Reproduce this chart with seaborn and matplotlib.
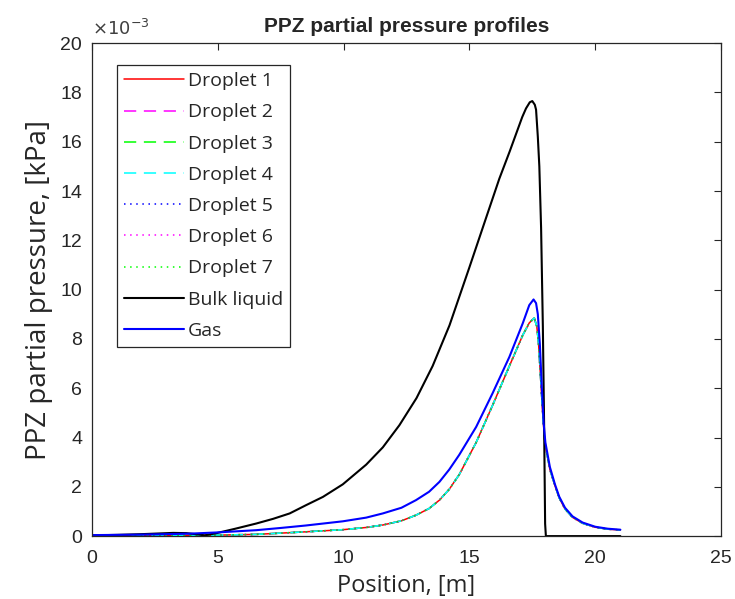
import numpy as np
import pandas as pd
import seaborn as sns
import matplotlib
matplotlib.use("Agg")
import matplotlib.pyplot as plt

# values, y in units of 1e-3 kPa
bulk_x = [0, 1, 2, 3.23, 3.76, 4.2, 4.48, 4.95, 5.7, 6.53, 7.2, 7.86, 8.5, 9.18,
          9.97, 10.9, 11.56, 12.22, 12.9, 13.54, 14.21, 15.0, 15.66, 16.19,
          16.6, 16.85, 17.1, 17.25, 17.4, 17.5, 17.6, 17.65, 17.72, 17.78,
          17.85, 17.92, 17.97, 18.01, 18.04, 19.5, 21.0]
bulk_y = [0.03, 0.05, 0.08, 0.13, 0.12, 0.07, 0.03, 0.12, 0.30, 0.51, 0.70, 0.92,
          1.25, 1.59, 2.1, 2.9, 3.6, 4.5, 5.6, 6.9, 8.55, 10.9, 12.9, 14.5, 15.6,
          16.3, 17.0, 17.35, 17.6, 17.65, 17.5, 17.3, 16.2, 15.0, 12.5, 8.5,
          4.5, 0.5, 0.0, 0.0, 0.0]

gas_x = [0, 2, 3.9, 5, 6.53, 7.5, 8.5, 9.97, 10.9, 11.56, 12.3, 12.88, 13.4, 13.81,
         14.2, 14.6, 15.27, 15.92, 16.59, 17.12, 17.38, 17.55, 17.65, 17.72, 17.8,
         17.88, 17.95, 18.02, 18.2, 18.4, 18.57, 18.8, 19.1, 19.5, 20.0, 20.5, 21.0]
gas_y = [0.04, 0.06, 0.10, 0.15, 0.24, 0.33, 0.43, 0.60, 0.75, 0.92, 1.15, 1.46,
         1.8, 2.2, 2.7, 3.3, 4.43, 5.79, 7.27, 8.63, 9.37, 9.6, 9.45, 9.0, 7.8,
         6.0, 4.6, 3.8, 2.8, 2.1, 1.6, 1.15, 0.80, 0.55, 0.38, 0.30, 0.26]

drop_x = [0, 3, 5, 6.53, 8.25, 9.97, 10.9, 11.56, 12.3, 12.88, 13.4, 13.81, 14.2,
          14.6, 15.27, 15.92, 16.59, 17.12, 17.38, 17.58, 17.68, 17.75, 17.82,
          17.9, 17.98, 18.05, 18.2, 18.4, 18.57, 18.8, 19.1, 19.5, 20.0, 20.5, 21.0]
drop_y = [0.01, 0.02, 0.04, 0.07, 0.16, 0.26, 0.35, 0.45, 0.62, 0.85, 1.12, 1.46,
          1.9, 2.5, 3.8, 5.3, 6.9, 8.15, 8.65, 8.85, 8.5, 7.8, 6.6, 5.2, 4.0, 3.5,
          2.7, 2.05, 1.55, 1.1, 0.76, 0.52, 0.36, 0.28, 0.25]

droplet_names = [f"Droplet {i}" for i in range(1, 8)]
droplet_colors = ["#ff0000", "#ff00ff", "#00ff00", "#00ffff", "#0000ff", "#ff00ff", "#00ff00"]
dash = (0, (8, 5))
dot = (0, (1, 3))
droplet_styles = ["-", dash, dash, dash, dot, dot, dot]

sns.set_style("white")
plt.rcParams["font.family"] = ["Liberation Sans", "DejaVu Sans"]

fig = plt.figure(figsize=(7.35, 5.99), dpi=100)
ax = fig.add_axes([0.125, 0.105, 0.856, 0.823])

drop_df = pd.DataFrame({"x": drop_x, "y": drop_y})
for name, c, ls in zip(droplet_names, droplet_colors, droplet_styles):
    sns.lineplot(data=drop_df, x="x", y="y", ax=ax, color=c, linestyle=ls,
                 linewidth=1.1, label=name, sort=False, estimator=None)

sns.lineplot(x=bulk_x, y=bulk_y, ax=ax, color="black", linewidth=1.5,
             label="Bulk liquid", sort=False, estimator=None)
sns.lineplot(x=gas_x, y=gas_y, ax=ax, color="#0000ff", linewidth=1.5,
             label="Gas", sort=False, estimator=None)

ax.set_xlim(0, 25)
ax.set_ylim(0, 20)
ax.set_xticks(np.arange(0, 26, 5))
ax.set_yticks(np.arange(0, 21, 2))
ax.tick_params(direction="in", top=True, right=True, length=5, width=0.8,
               labelsize=14, colors="#262626", pad=7)
ax.tick_params(axis="x", pad=10)
for sp in ax.spines.values():
    sp.set_color("#262626")
    sp.set_linewidth(0.9)

ax.set_xlabel("Position, [m]", fontsize=17, color="#262626",
              family=["Open Sans", "DejaVu Sans"], labelpad=5)
ax.set_ylabel("PPZ partial pressure, [kPa]", fontsize=20, color="#262626",
              family=["Open Sans", "DejaVu Sans"], labelpad=5)
ax.set_title("PPZ partial pressure profiles", fontsize=15, fontweight="bold", pad=8)
ax.text(0.0, 1.008, r"$\times10^{-3}$", transform=ax.transAxes, fontsize=13,
        color="#404040", ha="left", va="bottom")

leg = ax.legend(loc="upper left", bbox_to_anchor=(0.04, 0.955),
                prop={"family": ["Open Sans", "DejaVu Sans"], "size": 14},
                handlelength=3.1, handletextpad=0.2, labelspacing=0.68,
                borderpad=0.35, borderaxespad=0, fancybox=False, framealpha=1)
leg.get_frame().set_edgecolor("#262626")
leg.get_frame().set_linewidth(0.9)

fig.savefig("out.png", dpi=100)
plt.close()
